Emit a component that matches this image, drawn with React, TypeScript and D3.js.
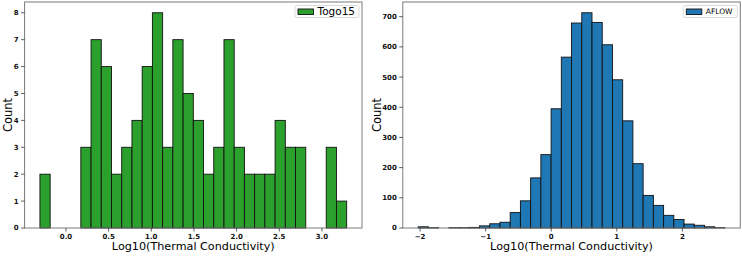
import React from "react";
import * as d3 from "d3";

// Togo15 histogram (30 bins)
const togoRange: [number, number] = [-0.305, 3.29];
const togoCounts = [2, 0, 0, 0, 3, 7, 6, 2, 3, 4, 6, 8, 3, 7, 5, 4, 2, 3, 7, 3, 2, 2, 2, 4, 3, 3, 0, 0, 3, 1];
const togoXTicks = [0.0, 0.5, 1.0, 1.5, 2.0, 2.5, 3.0];
const togoYTicks = [0, 1, 2, 3, 4, 5, 6, 7, 8];

// AFLOW histogram (30 bins)
const aflowRange: [number, number] = [-2.03, 2.65];
const aflowCounts = [4, 1, 0, 1, 1, 2, 7, 14, 19, 51, 90, 166, 243, 395, 566, 679, 713, 681, 607, 491, 355, 213, 108, 75, 42, 28, 13, 9, 4, 1];
const aflowXTicks = [-2, -1, 0, 1, 2];
const aflowYTicks = [0, 100, 200, 300, 400, 500, 600, 700];

const FONT = "DejaVu Sans, sans-serif";

type PanelProps = {
  left: number;
  right: number;
  top: number;
  bottom: number;
  range: [number, number];
  counts: number[];
  xTicks: number[];
  yTicks: number[];
  xFmt: (v: number) => string;
  color: string;
  label: string;
  legendFont: number;
  legendW: number;
  countX: number;
};

function Panel(p: PanelProps) {
  const n = p.counts.length;
  const edges = d3.range(n + 1).map((i) => p.range[0] + ((p.range[1] - p.range[0]) * i) / n);
  const span = p.range[1] - p.range[0];
  const x = d3
    .scaleLinear()
    .domain([p.range[0] - span * 0.05, p.range[1] + span * 0.05])
    .range([p.left, p.right]);
  const maxC = d3.max(p.counts) as number;
  const y = d3.scaleLinear().domain([0, maxC * 1.05]).range([p.bottom, p.top]);
  const spine = "#7a7a7a";
  const lx = p.right - 3 - p.legendW;
  return (
    <g>
      {p.counts.map((c, i) =>
        c > 0 ? (
          <rect
            key={i}
            x={x(edges[i])}
            y={y(c)}
            width={x(edges[i + 1]) - x(edges[i])}
            height={y(0) - y(c)}
            fill={p.color}
            stroke="#111"
            strokeWidth={0.9}
          />
        ) : null
      )}
      <rect
        x={p.left}
        y={p.top}
        width={p.right - p.left}
        height={p.bottom - p.top}
        fill="none"
        stroke={spine}
        strokeWidth={1}
      />
      {p.xTicks.map((t) => (
        <g key={"x" + t} transform={`translate(${x(t)},${p.bottom})`}>
          <line y1={0} y2={3.5} stroke="#333" strokeWidth={0.8} />
          <text y={11} textAnchor="middle" fontSize={7} fontWeight="bold" fontFamily={FONT} fill="#111">
            {p.xFmt(t)}
          </text>
        </g>
      ))}
      {p.yTicks.map((t) => (
        <g key={"y" + t} transform={`translate(${p.left},${y(t)})`}>
          <line x1={0} x2={-3.5} stroke="#333" strokeWidth={0.8} />
          <text x={-6} dy="0.35em" textAnchor="end" fontSize={7} fontWeight="bold" fontFamily={FONT} fill="#111">
            {t}
          </text>
        </g>
      ))}
      <text
        x={(p.left + p.right) / 2}
        y={249.5}
        textAnchor="middle"
        fontSize={11.2}
        fontFamily={FONT}
        fill="#000"
      >
        Log10(Thermal Conductivity)
      </text>
      <text
        transform={`translate(${p.countX},${(p.top + p.bottom) / 2}) rotate(-90)`}
        textAnchor="middle"
        fontSize={11.5}
        fontFamily={FONT}
        fill="#000"
      >
        Count
      </text>
      <g>
        <rect
          x={lx}
          y={p.top + 3.5}
          width={p.legendW}
          height={12}
          rx={2}
          fill="#fff"
          fillOpacity={0.8}
          stroke="#d0d0d0"
          strokeWidth={0.8}
        />
        <rect x={lx + 3} y={p.top + 7} width={15.5} height={5.5} fill={p.color} stroke="#111" strokeWidth={0.9} />
        <text
          x={lx + 22.5}
          y={p.top + 9.75}
          dy="0.35em"
          fontSize={p.legendFont}
          fontFamily={FONT}
          fill="#000"
        >
          {p.label}
        </text>
      </g>
    </g>
  );
}

export default function App() {
  const fmt1 = (v: number) => v.toFixed(1);
  const fmtInt = (v: number) => (v < 0 ? "\u2212" + Math.abs(v) : String(v));
  return (
    <svg width={742} height={256} style={{ display: "block", position: "absolute", left: 0, top: 0 }}>
      <rect width={742} height={256} fill="#fff" />
      <Panel
        left={24.6}
        right={362}
        top={2}
        bottom={228}
        range={togoRange}
        counts={togoCounts}
        xTicks={togoXTicks}
        yTicks={togoYTicks}
        xFmt={fmt1}
        color="#2ca02c"
        label="Togo15"
        legendFont={10.5}
        legendW={64}
        countX={12}
      />
      <Panel
        left={402.8}
        right={740.3}
        top={2}
        bottom={228}
        range={aflowRange}
        counts={aflowCounts}
        xTicks={aflowXTicks}
        yTicks={aflowYTicks}
        xFmt={fmtInt}
        color="#1f77b4"
        label="AFLOW"
        legendFont={7.5}
        legendW={54}
        countX={380.5}
      />
    </svg>
  );
}
